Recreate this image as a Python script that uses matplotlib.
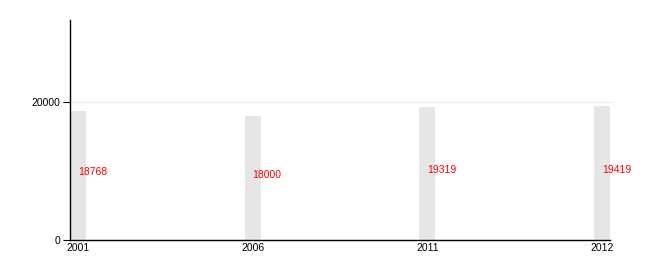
import numpy as np
import matplotlib
matplotlib.use('Agg')
import matplotlib.pyplot as plt

plt.rcParams['font.family'] = ['Liberation Sans', 'DejaVu Sans']

years = ['2001', '2006', '2011', '2012']
values = [18768, 18000, 19319, 19419]

fig = plt.figure(figsize=(6.5, 2.6), dpi=100)
ax = fig.add_axes([70/650, 20/260, 540/650, 220/260])

x = np.arange(len(years))
w = 0.091
ax.bar(x, values, width=w, align='edge', color='#e6e6e6', zorder=2)
ax.plot([0, 3 + w + 0.01], [20000, 20000], color='#ebebeb', lw=0.8, zorder=1, clip_on=False)

# value labels, baseline at half height
for xi, v in zip(x, values):
    ax.text(xi + w/2, v/2, str(v), color='red', fontsize=7.5, ha='left', va='baseline', zorder=3)

ax.set_xlim(0, 3 + w)
ax.set_ylim(0, 31900)
ax.set_xticks(x + w/2)
ax.set_xticklabels(years)
ax.set_yticks([0, 20000])
ax.tick_params(axis='x', length=0, pad=2.5, labelsize=7.5)
ax.tick_params(axis='y', length=5, width=0.8, pad=2, labelsize=7.5)
for s in ['top', 'right']:
    ax.spines[s].set_visible(False)
for s in ['left', 'bottom']:
    ax.spines[s].set_linewidth(1)

fig.savefig('out.png', dpi=100)
